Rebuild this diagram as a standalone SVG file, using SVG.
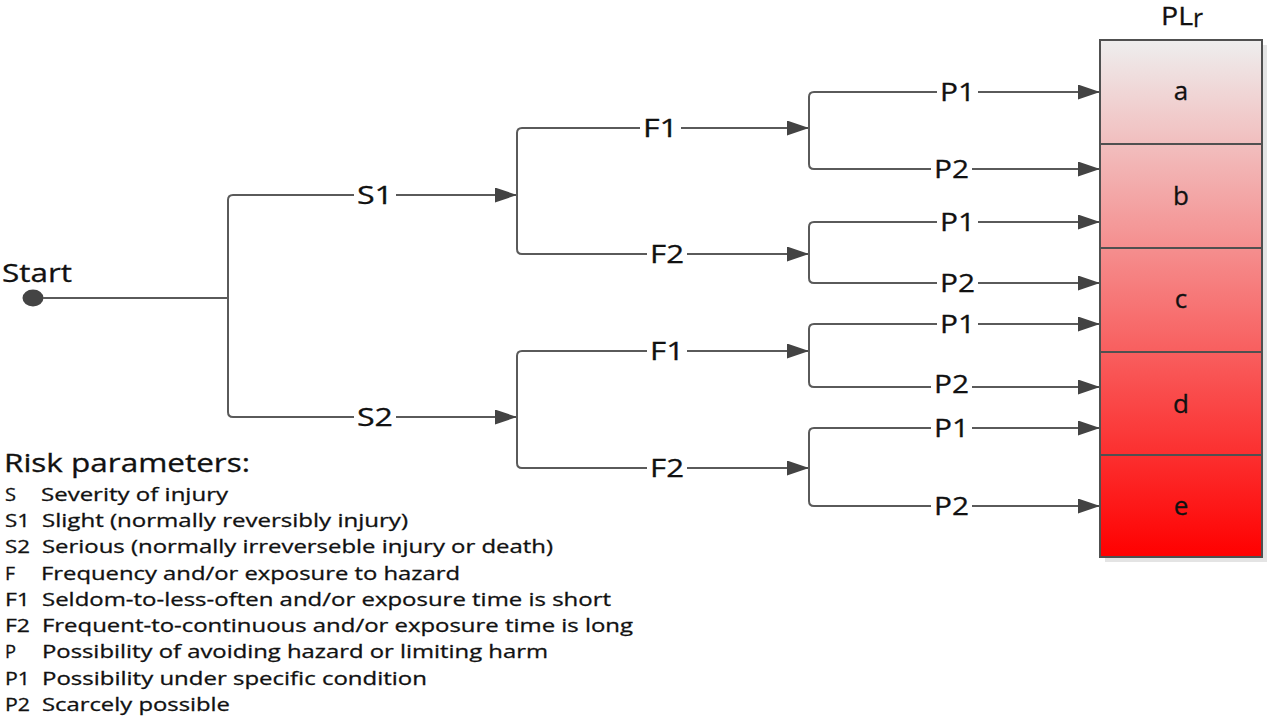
<svg xmlns="http://www.w3.org/2000/svg" width="1271" height="721" viewBox="0 0 1271 721">
  <style>
    .wire { fill: none; stroke: #5a5a5a; stroke-width: 2; marker-end: url(#arrow); }
    .plain { fill: none; stroke: #5a5a5a; stroke-width: 2; }
    .gap { fill: #ffffff; }
    .lbl { font-family: "Open Sans", "Liberation Sans", sans-serif; font-size: 25px; fill: #111111; stroke: #111111; stroke-width: 0.3px; }
    .cell { font-family: "Open Sans", "Liberation Sans", sans-serif; font-size: 26px; fill: #111111; text-anchor: middle; stroke: #111111; stroke-width: 0.3px; }
    .title { font-family: "Open Sans", "Liberation Sans", sans-serif; font-size: 25px; fill: #111111; stroke: #111111; stroke-width: 0.3px; }
    .leg { font-family: "Open Sans", "Liberation Sans", sans-serif; font-size: 19px; fill: #111111; stroke: #111111; stroke-width: 0.3px; }
    .div { stroke: #505050; stroke-width: 2; }
  </style>
  <defs>
    <marker id="arrow" markerUnits="userSpaceOnUse" markerWidth="22" markerHeight="16" refX="22" refY="7.5" orient="auto">
      <path d="M0,0 L22,7.5 L0,15 Z" fill="#434343"/>
    </marker>
    <linearGradient id="plGrad" x1="0" y1="0" x2="0" y2="1">
      <stop offset="0" stop-color="#eeeeee"/>
      <stop offset="1" stop-color="#ff0000"/>
    </linearGradient>
  </defs>

  <rect width="1271" height="721" fill="#ffffff"/>

  <!-- start point -->
  <g id="start">
    <text class="title" x="2" y="282" textLength="70" lengthAdjust="spacingAndGlyphs">Start</text>
    <ellipse cx="33" cy="298" rx="10.5" ry="8.5" fill="#444444"/>
  </g>

  <!-- branches of the risk graph -->
  <g id="connectors">
    <path class="plain" d="M43,298 H228"/>
    <!-- severity -->
    <path class="wire" d="M228,298 V200 Q228,195 233,195 H517"/>
    <path class="wire" d="M228,298 V412 Q228,417 233,417 H517"/>
    <!-- frequency, S1 -->
    <path class="wire" d="M517,195 V133 Q517,128 522,128 H809"/>
    <path class="wire" d="M517,195 V249 Q517,254 522,254 H809"/>
    <!-- frequency, S2 -->
    <path class="wire" d="M517,417 V356 Q517,351 522,351 H809"/>
    <path class="wire" d="M517,417 V463 Q517,468 522,468 H809"/>
    <!-- possibility -->
    <path class="wire" d="M809,128 V97 Q809,92 814,92 H1100"/>
    <path class="wire" d="M809,128 V164 Q809,169 814,169 H1100"/>
    <path class="wire" d="M809,254 V227 Q809,222 814,222 H1100"/>
    <path class="wire" d="M809,254 V278 Q809,283 814,283 H1100"/>
    <path class="wire" d="M809,351 V329 Q809,324 814,324 H1100"/>
    <path class="wire" d="M809,351 V382 Q809,387 814,387 H1100"/>
    <path class="wire" d="M809,468 V433 Q809,428 814,428 H1100"/>
    <path class="wire" d="M809,468 V501 Q809,506 814,506 H1100"/>

    <!-- breaks in the lines behind the branch labels -->
    <rect class="gap" x="354" y="190" width="42" height="10"/>
    <rect class="gap" x="354" y="412" width="42" height="10"/>
    <rect class="gap" x="640" y="123" width="41" height="10"/>
    <rect class="gap" x="647" y="249" width="40" height="10"/>
    <rect class="gap" x="647" y="346" width="40" height="10"/>
    <rect class="gap" x="647" y="463" width="40" height="10"/>
    <rect class="gap" x="937" y="87" width="41" height="10"/>
    <rect class="gap" x="931" y="164" width="41" height="10"/>
    <rect class="gap" x="937" y="217" width="41" height="10"/>
    <rect class="gap" x="937" y="278" width="41" height="10"/>
    <rect class="gap" x="937" y="319" width="41" height="10"/>
    <rect class="gap" x="931" y="382" width="41" height="10"/>
    <rect class="gap" x="931" y="423" width="41" height="10"/>
    <rect class="gap" x="931" y="501" width="41" height="10"/>

    <!-- branch labels -->
    <text class="lbl" x="357" y="204" textLength="36" lengthAdjust="spacingAndGlyphs">S1</text>
    <text class="lbl" x="357" y="426" textLength="36" lengthAdjust="spacingAndGlyphs">S2</text>
    <text class="lbl" x="643" y="137" textLength="35" lengthAdjust="spacingAndGlyphs">F1</text>
    <text class="lbl" x="650" y="263" textLength="34" lengthAdjust="spacingAndGlyphs">F2</text>
    <text class="lbl" x="650" y="360" textLength="34" lengthAdjust="spacingAndGlyphs">F1</text>
    <text class="lbl" x="650" y="477" textLength="34" lengthAdjust="spacingAndGlyphs">F2</text>
    <text class="lbl" x="940" y="101" textLength="35" lengthAdjust="spacingAndGlyphs">P1</text>
    <text class="lbl" x="934" y="178" textLength="35" lengthAdjust="spacingAndGlyphs">P2</text>
    <text class="lbl" x="940" y="231" textLength="35" lengthAdjust="spacingAndGlyphs">P1</text>
    <text class="lbl" x="940" y="292" textLength="35" lengthAdjust="spacingAndGlyphs">P2</text>
    <text class="lbl" x="940" y="333" textLength="35" lengthAdjust="spacingAndGlyphs">P1</text>
    <text class="lbl" x="934" y="393" textLength="35" lengthAdjust="spacingAndGlyphs">P2</text>
    <text class="lbl" x="934" y="437" textLength="35" lengthAdjust="spacingAndGlyphs">P1</text>
    <text class="lbl" x="934" y="515" textLength="35" lengthAdjust="spacingAndGlyphs">P2</text>
  </g>

  <!-- required performance level column -->
  <g id="pl-r">
    <text class="title" x="1161" y="25" font-size="24" textLength="32" lengthAdjust="spacingAndGlyphs">PL</text>
    <text class="title" x="1193" y="27" font-size="17" textLength="10" lengthAdjust="spacingAndGlyphs">r</text>
    <rect x="1105" y="45" width="162" height="517" fill="#e4e4e4"/>
    <rect x="1100" y="40" width="162" height="517" fill="url(#plGrad)" stroke="#505050" stroke-width="2"/>
    <line class="div" x1="1100" y1="144" x2="1262" y2="144"/>
    <line class="div" x1="1100" y1="248" x2="1262" y2="248"/>
    <line class="div" x1="1100" y1="352" x2="1262" y2="352"/>
    <line class="div" x1="1100" y1="455" x2="1262" y2="455"/>
  </g>
  <g id="pl-a"><text class="cell" x="1181" y="100">a</text></g>
  <g id="pl-b"><text class="cell" x="1181" y="205">b</text></g>
  <g id="pl-c"><text class="cell" x="1181" y="308">c</text></g>
  <g id="pl-d"><text class="cell" x="1181" y="413">d</text></g>
  <g id="pl-e"><text class="cell" x="1181" y="515">e</text></g>

  <!-- parameter key -->
  <g id="legend">
    <text class="title" x="4" y="472" font-size="26" textLength="246" lengthAdjust="spacingAndGlyphs">Risk parameters:</text>
    <text class="leg" x="5" y="501" textLength="11" lengthAdjust="spacingAndGlyphs">S</text>
    <text class="leg" x="41" y="501" textLength="187" lengthAdjust="spacingAndGlyphs">Severity of injury</text>
    <text class="leg" x="5" y="527" textLength="25" lengthAdjust="spacingAndGlyphs">S1</text>
    <text class="leg" x="42" y="527" textLength="366" lengthAdjust="spacingAndGlyphs">Slight (normally reversibly injury)</text>
    <text class="leg" x="5" y="553" textLength="25" lengthAdjust="spacingAndGlyphs">S2</text>
    <text class="leg" x="42" y="553" textLength="511" lengthAdjust="spacingAndGlyphs">Serious (normally irreverseble injury or death)</text>
    <text class="leg" x="5" y="580" textLength="10" lengthAdjust="spacingAndGlyphs">F</text>
    <text class="leg" x="41" y="580" textLength="419" lengthAdjust="spacingAndGlyphs">Frequency and/or exposure to hazard</text>
    <text class="leg" x="5" y="606" textLength="25" lengthAdjust="spacingAndGlyphs">F1</text>
    <text class="leg" x="42" y="606" textLength="569" lengthAdjust="spacingAndGlyphs">Seldom-to-less-often and/or exposure time is short</text>
    <text class="leg" x="5" y="632" textLength="25" lengthAdjust="spacingAndGlyphs">F2</text>
    <text class="leg" x="42" y="632" textLength="591" lengthAdjust="spacingAndGlyphs">Frequent-to-continuous and/or exposure time is long</text>
    <text class="leg" x="5" y="658" textLength="11" lengthAdjust="spacingAndGlyphs">P</text>
    <text class="leg" x="42" y="658" textLength="506" lengthAdjust="spacingAndGlyphs">Possibility of avoiding hazard or limiting harm</text>
    <text class="leg" x="5" y="685" textLength="25" lengthAdjust="spacingAndGlyphs">P1</text>
    <text class="leg" x="42" y="685" textLength="385" lengthAdjust="spacingAndGlyphs">Possibility under specific condition</text>
    <text class="leg" x="5" y="711" textLength="25" lengthAdjust="spacingAndGlyphs">P2</text>
    <text class="leg" x="42" y="711" textLength="188" lengthAdjust="spacingAndGlyphs">Scarcely possible</text>
  </g>
</svg>
